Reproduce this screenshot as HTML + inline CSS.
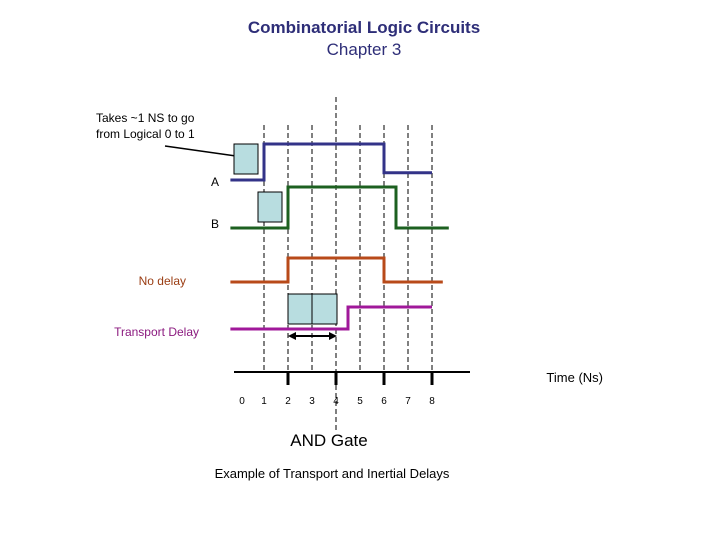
<!DOCTYPE html>
<html><head><meta charset="utf-8"><style>
body{margin:0;background:#fff;width:720px;height:540px;overflow:hidden;font-family:"Liberation Sans",sans-serif}
svg{display:block}
</style></head><body>
<svg id="chart" width="720" height="540">
<text x="364" y="33" text-anchor="middle" font-size="17" font-weight="bold" fill="#2e2e78">Combinatorial Logic Circuits</text>
<text x="364" y="55" text-anchor="middle" font-size="17" fill="#2e2e78">Chapter 3</text>
<text x="96" y="122" font-size="12" fill="#000">Takes ~1 NS to go</text>
<text x="96" y="138" font-size="12" fill="#000">from Logical 0 to 1</text>
<line x1="165" y1="146" x2="243" y2="157" stroke="#000" stroke-width="1.5"/>
<polygon points="247,158 238,153 237,160" fill="#000"/>
<g id="grid"></g>
<g id="boxes"></g>
<g id="signals"></g>
<g id="axis"></g>
<text x="215" y="186" text-anchor="middle" font-size="12">A</text>
<text x="215" y="228" text-anchor="middle" font-size="12">B</text>
<text x="186" y="285" text-anchor="end" font-size="12" fill="#9a3c12">No delay</text>
<text x="199" y="336" text-anchor="end" font-size="12" fill="#8b1a7f">Transport Delay</text>
<text x="603" y="382" text-anchor="end" font-size="13">Time (Ns)</text>
<line x1="290" y1="336" x2="335" y2="336" stroke="#000" stroke-width="2"/>
<polygon points="288,336 296,332 296,340" fill="#000"/>
<polygon points="337,336 329,332 329,340" fill="#000"/>
<text x="329" y="446" text-anchor="middle" font-size="17">AND Gate</text>
<text x="332" y="478" text-anchor="middle" font-size="13">Example of Transport and Inertial Delays</text>
</svg>
<script>
const ticks = [0,1,2,3,4,5,6,7,8];
const tickLabels = ["0","1","2","3","4","5","6","7","8"];
const majorTicks = [2,4,6,8];
const gridTimes = [1,2,3,4,5,6,7,8];
// signal transitions: times and levels (0/1)
const aTimes = [-0.4,1,6,8];
const aLevels = [0,1,0.2,0.2];
const bTimes = [-0.4,2,6.5,8.7];
const bLevels = [0,1,0,0];
const ndTimes = [-0.4,2,6,8.45];
const ndLevels = [0,1,0,0];
const tdTimes = [-0.4,4.5,8];
const tdLevels = [0,1,1];
const NS='http://www.w3.org/2000/svg';
function xs(t){return 264+(t-1)*24;}
function ys(base,h,v){return base-h*v;}
function mk(tag,attrs,parent){const e=document.createElementNS(NS,tag);for(const k in attrs)e.setAttribute(k,attrs[k]);parent.appendChild(e);return e;}
const grid=document.getElementById('grid');
gridTimes.forEach(t=>{
  const l=mk('line',{x1:xs(t),x2:xs(t),y1:t===4?97:125,y2:t===4?432:372,stroke:'#000','stroke-width':1,'stroke-dasharray':'5,3'},grid);
  
  
});
const boxes=document.getElementById('boxes');
[[234,144,24,30],[258,192,24,30],[288,294,24,30],[312,294,25,30]].forEach((b,i)=>{
  const r=mk('rect',{x:b[0],y:b[1],width:b[2],height:b[3],fill:'#b8dde0',stroke:'#000','stroke-width':1},boxes);
  
  
});
function sig(times,levels,base,h,color,name){
  let d='';
  for(let i=0;i<times.length;i++){
    const x=xs(times[i]),y=ys(base,h,levels[i]);
    if(i===0)d+='M'+x+','+y;
    else{d+=' H'+x;if(levels[i]!==levels[i-1])d+=' V'+y;}
  }
  const p=mk('path',{d:d,fill:'none',stroke:color,'stroke-width':3},document.getElementById('signals'));
  
  
}
sig(aTimes,aLevels,180,36,'#333388','signal-a');
sig(bTimes,bLevels,228,41,'#1d6020','signal-b');
sig(ndTimes,ndLevels,282,24,'#b84a1a','signal-no-delay');
sig(tdTimes,tdLevels,329,22,'#a0189a','signal-transport-delay');
const ax=document.getElementById('axis');
const al=mk('line',{x1:234,x2:470,y1:372,y2:372,stroke:'#000','stroke-width':2},ax);


majorTicks.forEach(t=>{
  const l=mk('line',{x1:xs(t),x2:xs(t),y1:372,y2:385,stroke:'#000','stroke-width':3},ax);
  
  
});
ticks.forEach((t,i)=>{
  const tx=mk('text',{x:xs(t)+(t===0?2:0),y:404,'text-anchor':'middle','font-size':10},ax);
  tx.textContent=tickLabels[i];
  
  
});
</script>
</body></html>
